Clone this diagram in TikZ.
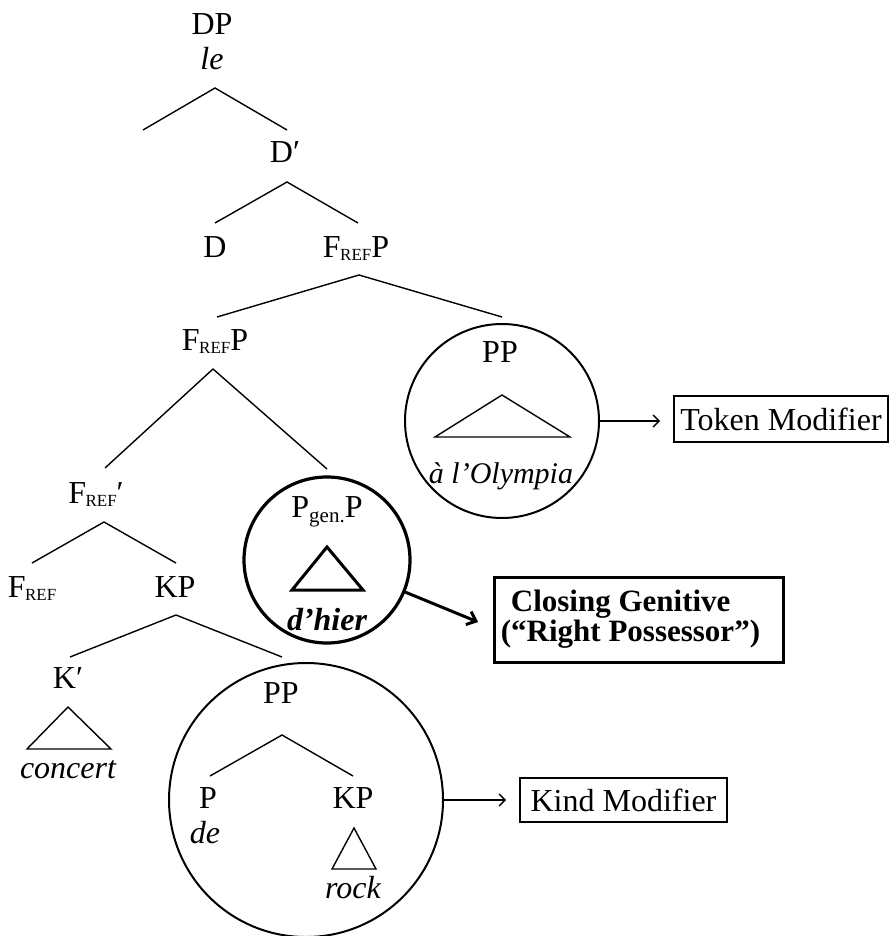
\documentclass[tikz,border=0pt]{standalone}
\usepackage{fontspec}
\setmainfont{Liberation Serif}
\usetikzlibrary{arrows.meta}
\newcommand\Fref{F\kern-0.5pt\raisebox{-3pt}{\fontsize{17}{17}\selectfont REF}}
\begin{document}
\begin{tikzpicture}[x=1pt,y=-1pt,
  lab/.style={anchor=base,inner sep=0pt,font=\fontsize{32}{32}\selectfont},
  branch/.style={line width=1.4pt},
  ring/.style={line width=2pt},
  thickring/.style={line width=3.2pt},
  tbox/.style={draw,line width=1.6pt,inner sep=0pt,font=\fontsize{32}{32}\selectfont},
  arr/.style={line width=1.4pt,shorten >=13pt,-{Straight Barb[length=6pt,width=12pt]}}]
\useasboundingbox (0,0) rectangle (891,936);

% labels
\node[lab] (DP) at (212,35) {DP};
\node[lab] (le) at (212,70) {\itshape le};
\node[lab] (Dbar) at (285,163) {D\char"2032};
\node[lab] (D) at (215,257) {D};
\node[lab] (FP1) at (356,257) {\Fref P};
\node[lab] (FP2) at (215,350) {\Fref P};
\node[lab] (PPa) at (500,362) {PP};
\node[lab,font=\fontsize{30}{30}\selectfont] (Oly) at (501,483) {\itshape à l’Olympia};
\node[lab] (Fbar) at (96,503) {\Fref\char"2032};
\node[lab] (F) at (32,597) {\Fref};
\node[lab] (KP1) at (175,597) {KP};
\node[lab] (Kbar) at (68,688) {K\char"2032};
\node[lab] (concert) at (68,778) {\itshape concert};
\node[lab] (PPb) at (281,703) {PP};
\node[lab] (P) at (208,808) {P};
\node[lab] (de) at (205,843) {\itshape de};
\node[lab] (KP2) at (353,808) {KP};
\node[lab] (rock) at (353,898) {\itshape rock};
\node[lab] (Pgen) at (327,517) {P\raisebox{-5pt}{\fontsize{21}{21}\selectfont gen.}P};
\node[lab] (dhier) at (327,630) {\bfseries\itshape d’hier};

% circles
\node[ring,draw,circle,minimum size=194pt,inner sep=0pt] (Ca) at (502,421) {};
\node[thickring,draw,circle,minimum size=166pt,inner sep=0pt] (Cg) at (327,560) {};
\node[ring,draw,circle,minimum size=274pt,inner sep=0pt] (Cb) at (306,800) {};

% boxes
\node[tbox,minimum width=214pt,minimum height=46pt] (Tok) at (781,419) {Token Modifier};
\node[tbox,minimum width=207pt,minimum height=44pt] (Kind) at (623.5,800) {Kind Modifier};
\node[draw,line width=3pt,inner sep=0pt,minimum width=289pt,minimum height=85pt,
      align=left,font=\fontsize{31}{30}\selectfont\bfseries] (Clo) at (638.5,619.5)
      {\hspace*{10pt}Closing Genitive\\(“Right Possessor”)\rule{16pt}{0pt}};

% branch coordinates
\coordinate (a0) at (215,88);  \coordinate (a1) at (143,130); \coordinate (a2) at (287,130);
\coordinate (b0) at (287,182); \coordinate (b1) at (215,223); \coordinate (b2) at (358,223);
\coordinate (c0) at (359,275); \coordinate (c1) at (217,317); \coordinate (c2) at (502,317);
\coordinate (d0) at (213,369); \coordinate (d1) at (105,468); \coordinate (d2) at (327,469);
\coordinate (e0) at (104,522); \coordinate (e1) at (32,563);  \coordinate (e2) at (176,563);
\coordinate (f0) at (176,615); \coordinate (f1) at (70,657);  \coordinate (f2) at (282,657);
\coordinate (g0) at (282,735); \coordinate (g1) at (210,776); \coordinate (g2) at (353,776);

\draw[branch] (a1) -- (a0) -- (a2);
\draw[branch] (b1) -- (b0) -- (b2);
\draw[branch] (c1) -- (c0) -- (c2);
\draw[branch] (d1) -- (d0) -- (d2);
\draw[branch] (e1) -- (e0) -- (e2);
\draw[branch] (f1) -- (f0) -- (f2);
\draw[branch] (g1) -- (g0) -- (g2);

% triangles
\draw[branch,line join=miter] (502,395) -- (570,437) -- (435,437) -- cycle;
\draw[line width=3pt,line join=miter] (327,547) -- (363,590) -- (292,590) -- cycle;
\draw[branch,line join=miter] (68,707) -- (111,749) -- (27,749) -- cycle;
\draw[branch,line join=miter] (354,828) -- (376,869) -- (332,869) -- cycle;

% arrows
\draw[arr] (Ca.east) -- (Ca.east -| Tok.west);
\draw[arr] (Cb.east |- Kind.west) -- (Kind.west);
\coordinate (gs) at (405,592);
\coordinate (ge) at (478,622);
\draw[line width=3pt,-{Straight Barb[length=8pt,width=14pt]}] (gs) -- (ge);
\end{tikzpicture}
\end{document}
